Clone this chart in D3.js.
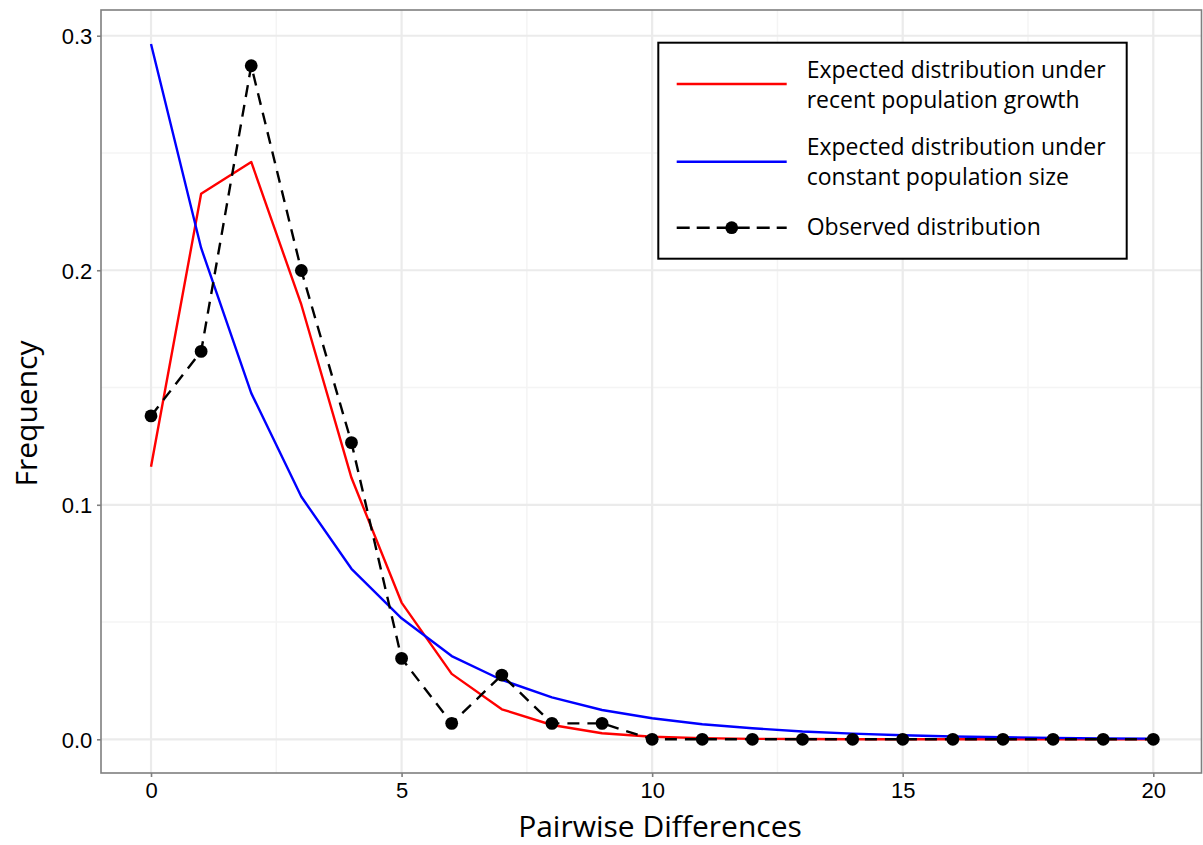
<!DOCTYPE html>
<html>
<head>
<meta charset="utf-8">
<script src="https://cdn.jsdelivr.net/npm/d3@7"></script>
<style>
  html, body { margin: 0; padding: 0; background: #fff; }
  svg { display: block; }
</style>
</head>
<body>
<svg id="chart" width="1203" height="845"></svg>
<script>
// ---------- data ----------
const diffs = d3.range(0, 21); // pairwise differences 0..20
const growth = [0.1162, 0.2326, 0.2462, 0.1853, 0.1115, 0.0583, 0.0279, 0.0128, 0.0061, 0.0026,
                0.0011, 0.0005, 0.0002, 0.0001, 0, 0, 0, 0, 0, 0, 0];
const constant = [0.2965, 0.2095, 0.1476, 0.1034, 0.0727, 0.0516, 0.0355, 0.0253, 0.0179, 0.0125,
                  0.0090, 0.0064, 0.0047, 0.0033, 0.0024, 0.0017, 0.0012, 0.0009, 0.0006, 0.0004, 0.0003];
const observed = [0.1379, 0.1654, 0.2872, 0.1999, 0.1265, 0.0345, 0.0068, 0.0274, 0.0068, 0.0068,
                  0, 0, 0, 0, 0, 0, 0, 0, 0, 0, 0];
const xTicks = [0, 5, 10, 15, 20];
const xMinor = [2.5, 7.5, 12.5, 17.5];
const yTicks = [0.0, 0.1, 0.2, 0.3];
const yMinor = [0.05, 0.15, 0.25];
const legendLabels = [
  ["Expected distribution under", "recent population growth"],
  ["Expected distribution under", "constant population size"],
  ["Observed distribution"]
];
const colors = ["#ff0000", "#0000ff", "#000000"];

// ---------- layout ----------
const panel = { left: 101, right: 1201.5, top: 10, bottom: 773 };
const svg = d3.select("#chart");

const x = d3.scaleLinear().domain([-1, 21]).range([100.9, 1203.4]);
const y = d3.scaleLinear().domain([-0.01437, 0.31097]).range([773, 10]);

const tickFont = "'Liberation Sans', Arial, Helvetica, sans-serif";
const titleFont = "'Open Sans', Lato, sans-serif";

// clip
svg.append("defs").append("clipPath").attr("id", "clip")
  .append("rect").attr("x", panel.left).attr("y", panel.top)
  .attr("width", panel.right - panel.left).attr("height", panel.bottom - panel.top);

const grid = svg.append("g").attr("clip-path", "url(#clip)");
// minor grid
grid.selectAll(".xminor").data(xMinor).join("line")
  .attr("x1", d => x(d)).attr("x2", d => x(d))
  .attr("y1", panel.top).attr("y2", panel.bottom)
  .attr("stroke", "#f4f4f4").attr("stroke-width", 1.5);
grid.selectAll(".yminor").data(yMinor).join("line")
  .attr("y1", d => y(d)).attr("y2", d => y(d))
  .attr("x1", panel.left).attr("x2", panel.right)
  .attr("stroke", "#f4f4f4").attr("stroke-width", 1.5);
// major grid
grid.selectAll(".xmajor").data(xTicks).join("line")
  .attr("x1", d => x(d)).attr("x2", d => x(d))
  .attr("y1", panel.top).attr("y2", panel.bottom)
  .attr("stroke", "#ebebeb").attr("stroke-width", 2.2);
grid.selectAll(".ymajor").data(yTicks).join("line")
  .attr("y1", d => y(d)).attr("y2", d => y(d))
  .attr("x1", panel.left).attr("x2", panel.right)
  .attr("stroke", "#ebebeb").attr("stroke-width", 2.2);

// ---------- series ----------
const line = d3.line().x((d, i) => x(diffs[i])).y(d => y(d));
const plot = svg.append("g").attr("clip-path", "url(#clip)");

plot.append("path").datum(growth).attr("d", line)
  .attr("fill", "none").attr("stroke", colors[0]).attr("stroke-width", 2.4)
  .attr("stroke-linejoin", "round");
plot.append("path").datum(constant).attr("d", line)
  .attr("fill", "none").attr("stroke", colors[1]).attr("stroke-width", 2.4)
  .attr("stroke-linejoin", "round");
plot.append("path").datum(observed).attr("d", line)
  .attr("fill", "none").attr("stroke", colors[2]).attr("stroke-width", 2.4)
  .attr("stroke-dasharray", "12,8");
plot.selectAll(".pt").data(observed).join("circle")
  .attr("cx", (d, i) => x(diffs[i])).attr("cy", d => y(d))
  .attr("r", 6.4).attr("fill", "#000");

// ---------- panel border ----------
svg.append("rect")
  .attr("x", panel.left).attr("y", panel.top)
  .attr("width", panel.right - panel.left).attr("height", panel.bottom - panel.top)
  .attr("fill", "none").attr("stroke", "#7f7f7f").attr("stroke-width", 1.6);

// ---------- axes ----------
const xAxis = svg.append("g").attr("transform", `translate(0,${panel.bottom})`)
  .call(d3.axisBottom(x).tickValues(xTicks).tickSize(4).tickPadding(6).tickFormat(d3.format("d")));
xAxis.select(".domain").remove();
xAxis.selectAll(".tick line").attr("stroke", "#7f7f7f").attr("stroke-width", 1.6);
xAxis.selectAll(".tick text").attr("fill", "#000")
  .style("font-family", tickFont).style("font-size", "22px")
  .attr("y", 25).attr("dy", 0);

const yAxis = svg.append("g").attr("transform", `translate(${panel.left},0)`)
  .call(d3.axisLeft(y).tickValues(yTicks).tickSize(4).tickPadding(5).tickFormat(d3.format(".1f")));
yAxis.select(".domain").remove();
yAxis.selectAll(".tick line").attr("stroke", "#7f7f7f").attr("stroke-width", 1.6);
yAxis.selectAll(".tick text").attr("fill", "#000")
  .style("font-family", tickFont).style("font-size", "22px")
  .attr("x", -8.7).attr("dy", "0.36em");

// ---------- titles ----------
svg.append("text").text("Pairwise Differences")
  .attr("x", 660).attr("y", 837).attr("text-anchor", "middle")
  .style("font-family", titleFont).style("font-size", "30px").attr("fill", "#000");
svg.append("text").text("Frequency")
  .attr("transform", "translate(37,413.5) rotate(-90)").attr("text-anchor", "middle")
  .style("font-family", titleFont).style("font-size", "30px").attr("fill", "#000");

// ---------- legend ----------
const lg = svg.append("g");
lg.append("rect").attr("x", 658.3).attr("y", 42.7).attr("width", 468.4).attr("height", 216)
  .attr("fill", "#fff").attr("stroke", "#000").attr("stroke-width", 2);
const keyY = [84, 161.7, 227.7];
const textY = [[78, 108], [155, 185], [235]];
keyY.forEach((ky, i) => {
  const l = lg.append("line").attr("x1", 676.7).attr("x2", 786.7).attr("y1", ky).attr("y2", ky)
    .attr("stroke", colors[i]).attr("stroke-width", 2.4);
  if (i === 2) {
    l.attr("stroke-dasharray", "13,7");
    lg.append("circle").attr("cx", 731.7).attr("cy", ky).attr("r", 6.4).attr("fill", "#000");
  }
  legendLabels[i].forEach((t, j) => {
    lg.append("text").text(t).attr("x", 806.7).attr("y", textY[i][j])
      .style("font-family", titleFont).style("font-size", "23px").attr("fill", "#000");
  });
});
</script>
</body>
</html>
